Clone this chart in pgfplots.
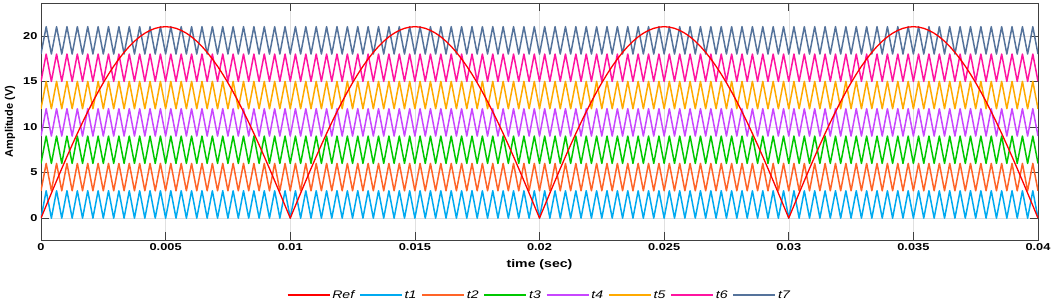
\documentclass[border=0pt]{standalone}
\usepackage{pgfplots}
\usepackage{pgfplotstable}
\pgfplotsset{compat=1.18}
\usepackage{fontspec}
\setmainfont{Liberation Sans}
\newfontfamily\wide[FakeStretch=1.28]{Liberation Sans}
\definecolor{cref}{RGB}{255,0,0}
\definecolor{ca}{RGB}{0,170,240}
\definecolor{cb}{RGB}{255,100,40}
\definecolor{cc}{RGB}{0,200,0}
\definecolor{cd}{RGB}{200,70,255}
\definecolor{ce}{RGB}{255,170,0}
\definecolor{cf}{RGB}{255,20,160}
\definecolor{cg}{RGB}{85,115,155}
\pgfplotstableread{
k ref t1 t2 t3 t4 t5 t6 t7
0 0 0 3 6 9 12 15 18
1 1.373 3 6 9 12 15 18 21
2 2.741 0 3 6 9 12 15 18
3 4.097 3 6 9 12 15 18 21
4 5.435 0 3 6 9 12 15 18
5 6.750 3 6 9 12 15 18 21
6 8.036 0 3 6 9 12 15 18
7 9.288 3 6 9 12 15 18 21
8 10.5 0 3 6 9 12 15 18
9 11.667 3 6 9 12 15 18 21
10 12.784 0 3 6 9 12 15 18
11 13.846 3 6 9 12 15 18 21
12 14.849 0 3 6 9 12 15 18
13 15.789 3 6 9 12 15 18 21
14 16.660 0 3 6 9 12 15 18
15 17.461 3 6 9 12 15 18 21
16 18.187 0 3 6 9 12 15 18
17 18.834 3 6 9 12 15 18 21
18 19.401 0 3 6 9 12 15 18
19 19.886 3 6 9 12 15 18 21
20 20.284 0 3 6 9 12 15 18
21 20.596 3 6 9 12 15 18 21
22 20.820 0 3 6 9 12 15 18
23 20.955 3 6 9 12 15 18 21
24 21 0 3 6 9 12 15 18
25 20.955 3 6 9 12 15 18 21
26 20.820 0 3 6 9 12 15 18
27 20.596 3 6 9 12 15 18 21
28 20.284 0 3 6 9 12 15 18
29 19.886 3 6 9 12 15 18 21
30 19.401 0 3 6 9 12 15 18
31 18.834 3 6 9 12 15 18 21
32 18.187 0 3 6 9 12 15 18
33 17.461 3 6 9 12 15 18 21
34 16.660 0 3 6 9 12 15 18
35 15.789 3 6 9 12 15 18 21
36 14.849 0 3 6 9 12 15 18
37 13.846 3 6 9 12 15 18 21
38 12.784 0 3 6 9 12 15 18
39 11.667 3 6 9 12 15 18 21
40 10.5 0 3 6 9 12 15 18
41 9.288 3 6 9 12 15 18 21
42 8.036 0 3 6 9 12 15 18
43 6.750 3 6 9 12 15 18 21
44 5.435 0 3 6 9 12 15 18
45 4.097 3 6 9 12 15 18 21
46 2.741 0 3 6 9 12 15 18
47 1.373 3 6 9 12 15 18 21
48 0 0 3 6 9 12 15 18
49 1.373 3 6 9 12 15 18 21
50 2.741 0 3 6 9 12 15 18
51 4.097 3 6 9 12 15 18 21
52 5.435 0 3 6 9 12 15 18
53 6.750 3 6 9 12 15 18 21
54 8.036 0 3 6 9 12 15 18
55 9.288 3 6 9 12 15 18 21
56 10.5 0 3 6 9 12 15 18
57 11.667 3 6 9 12 15 18 21
58 12.784 0 3 6 9 12 15 18
59 13.846 3 6 9 12 15 18 21
60 14.849 0 3 6 9 12 15 18
61 15.789 3 6 9 12 15 18 21
62 16.660 0 3 6 9 12 15 18
63 17.461 3 6 9 12 15 18 21
64 18.187 0 3 6 9 12 15 18
65 18.834 3 6 9 12 15 18 21
66 19.401 0 3 6 9 12 15 18
67 19.886 3 6 9 12 15 18 21
68 20.284 0 3 6 9 12 15 18
69 20.596 3 6 9 12 15 18 21
70 20.820 0 3 6 9 12 15 18
71 20.955 3 6 9 12 15 18 21
72 21 0 3 6 9 12 15 18
73 20.955 3 6 9 12 15 18 21
74 20.820 0 3 6 9 12 15 18
75 20.596 3 6 9 12 15 18 21
76 20.284 0 3 6 9 12 15 18
77 19.886 3 6 9 12 15 18 21
78 19.401 0 3 6 9 12 15 18
79 18.834 3 6 9 12 15 18 21
80 18.187 0 3 6 9 12 15 18
81 17.461 3 6 9 12 15 18 21
82 16.660 0 3 6 9 12 15 18
83 15.789 3 6 9 12 15 18 21
84 14.849 0 3 6 9 12 15 18
85 13.846 3 6 9 12 15 18 21
86 12.784 0 3 6 9 12 15 18
87 11.667 3 6 9 12 15 18 21
88 10.5 0 3 6 9 12 15 18
89 9.288 3 6 9 12 15 18 21
90 8.036 0 3 6 9 12 15 18
91 6.750 3 6 9 12 15 18 21
92 5.435 0 3 6 9 12 15 18
93 4.097 3 6 9 12 15 18 21
94 2.741 0 3 6 9 12 15 18
95 1.373 3 6 9 12 15 18 21
96 0 0 3 6 9 12 15 18
97 1.373 3 6 9 12 15 18 21
98 2.741 0 3 6 9 12 15 18
99 4.097 3 6 9 12 15 18 21
100 5.435 0 3 6 9 12 15 18
101 6.750 3 6 9 12 15 18 21
102 8.036 0 3 6 9 12 15 18
103 9.288 3 6 9 12 15 18 21
104 10.5 0 3 6 9 12 15 18
105 11.667 3 6 9 12 15 18 21
106 12.784 0 3 6 9 12 15 18
107 13.846 3 6 9 12 15 18 21
108 14.849 0 3 6 9 12 15 18
109 15.789 3 6 9 12 15 18 21
110 16.660 0 3 6 9 12 15 18
111 17.461 3 6 9 12 15 18 21
112 18.187 0 3 6 9 12 15 18
113 18.834 3 6 9 12 15 18 21
114 19.401 0 3 6 9 12 15 18
115 19.886 3 6 9 12 15 18 21
116 20.284 0 3 6 9 12 15 18
117 20.596 3 6 9 12 15 18 21
118 20.820 0 3 6 9 12 15 18
119 20.955 3 6 9 12 15 18 21
120 21 0 3 6 9 12 15 18
121 20.955 3 6 9 12 15 18 21
122 20.820 0 3 6 9 12 15 18
123 20.596 3 6 9 12 15 18 21
124 20.284 0 3 6 9 12 15 18
125 19.886 3 6 9 12 15 18 21
126 19.401 0 3 6 9 12 15 18
127 18.834 3 6 9 12 15 18 21
128 18.187 0 3 6 9 12 15 18
129 17.461 3 6 9 12 15 18 21
130 16.660 0 3 6 9 12 15 18
131 15.789 3 6 9 12 15 18 21
132 14.849 0 3 6 9 12 15 18
133 13.846 3 6 9 12 15 18 21
134 12.784 0 3 6 9 12 15 18
135 11.667 3 6 9 12 15 18 21
136 10.5 0 3 6 9 12 15 18
137 9.288 3 6 9 12 15 18 21
138 8.036 0 3 6 9 12 15 18
139 6.750 3 6 9 12 15 18 21
140 5.435 0 3 6 9 12 15 18
141 4.097 3 6 9 12 15 18 21
142 2.741 0 3 6 9 12 15 18
143 1.373 3 6 9 12 15 18 21
144 0 0 3 6 9 12 15 18
145 1.373 3 6 9 12 15 18 21
146 2.741 0 3 6 9 12 15 18
147 4.097 3 6 9 12 15 18 21
148 5.435 0 3 6 9 12 15 18
149 6.750 3 6 9 12 15 18 21
150 8.036 0 3 6 9 12 15 18
151 9.288 3 6 9 12 15 18 21
152 10.5 0 3 6 9 12 15 18
153 11.667 3 6 9 12 15 18 21
154 12.784 0 3 6 9 12 15 18
155 13.846 3 6 9 12 15 18 21
156 14.849 0 3 6 9 12 15 18
157 15.789 3 6 9 12 15 18 21
158 16.660 0 3 6 9 12 15 18
159 17.461 3 6 9 12 15 18 21
160 18.187 0 3 6 9 12 15 18
161 18.834 3 6 9 12 15 18 21
162 19.401 0 3 6 9 12 15 18
163 19.886 3 6 9 12 15 18 21
164 20.284 0 3 6 9 12 15 18
165 20.596 3 6 9 12 15 18 21
166 20.820 0 3 6 9 12 15 18
167 20.955 3 6 9 12 15 18 21
168 21 0 3 6 9 12 15 18
169 20.955 3 6 9 12 15 18 21
170 20.820 0 3 6 9 12 15 18
171 20.596 3 6 9 12 15 18 21
172 20.284 0 3 6 9 12 15 18
173 19.886 3 6 9 12 15 18 21
174 19.401 0 3 6 9 12 15 18
175 18.834 3 6 9 12 15 18 21
176 18.187 0 3 6 9 12 15 18
177 17.461 3 6 9 12 15 18 21
178 16.660 0 3 6 9 12 15 18
179 15.789 3 6 9 12 15 18 21
180 14.849 0 3 6 9 12 15 18
181 13.846 3 6 9 12 15 18 21
182 12.784 0 3 6 9 12 15 18
183 11.667 3 6 9 12 15 18 21
184 10.5 0 3 6 9 12 15 18
185 9.288 3 6 9 12 15 18 21
186 8.036 0 3 6 9 12 15 18
187 6.750 3 6 9 12 15 18 21
188 5.435 0 3 6 9 12 15 18
189 4.097 3 6 9 12 15 18 21
190 2.741 0 3 6 9 12 15 18
191 1.373 3 6 9 12 15 18 21
192 0 0 3 6 9 12 15 18
}\datatable
\begin{document}
\begin{tikzpicture}
\useasboundingbox (-41pt,-62pt) rectangle (1011pt,240pt);
\begin{axis}[
  at={(0pt,0pt)}, anchor=south west,
  scale only axis, width=997pt, height=237pt,
  xmin=0, xmax=192, ymin=-2.4, ymax=23.6,
  xtick={0,24,48,72,96,120,144,168,192},
  xticklabels={0,0.005,0.01,0.015,0.02,0.025,0.03,0.035,0.04},
  ytick={0,5,10,15,20},
  /pgf/number format/assume math mode=true,
  tick align=inside, major tick length=8pt,
  tick style={black!75, line width=0.6pt},
  axis line style={black!75, line width=0.7pt},
  grid=major, major grid style={black!12, line width=0.5pt},
  ticklabel style={font=\wide\bfseries\fontsize{10}{12}\selectfont},
  xlabel={time (sec)}, ylabel={Amplitude (V)},
  xlabel style={font=\wide\bfseries\fontsize{11}{13}\selectfont, at={(axis description cs:0.5,-0.105)}, anchor=center},
  ylabel style={font=\bfseries\fontsize{11}{13}\selectfont, at={(axis description cs:-0.031,0.5)}, anchor=center},
  legend columns=8,
  legend style={at={(axis description cs:0.5,-0.232)}, anchor=center, draw=none, fill=none,
    font=\wide\itshape\fontsize{11}{13}\selectfont,
    /tikz/every even column/.append style={column sep=3pt}},
  legend image code/.code={\draw[#1] (0pt,0pt) -- (42pt,0pt);},
  every axis plot/.append style={line join=round},
]
\addlegendimage{cref, line width=1.2pt}
\addlegendentry{Ref}
\addplot[ca, line width=1.5pt] table[x=k, y=t1] {\datatable};
\addlegendentry{t1}
\addplot[cb, line width=1.5pt] table[x=k, y=t2] {\datatable};
\addlegendentry{t2}
\addplot[cc, line width=1.5pt] table[x=k, y=t3] {\datatable};
\addlegendentry{t3}
\addplot[cd, line width=1.5pt] table[x=k, y=t4] {\datatable};
\addlegendentry{t4}
\addplot[ce, line width=1.5pt] table[x=k, y=t5] {\datatable};
\addlegendentry{t5}
\addplot[cf, line width=1.5pt] table[x=k, y=t6] {\datatable};
\addlegendentry{t6}
\addplot[cg, line width=1.5pt] table[x=k, y=t7] {\datatable};
\addlegendentry{t7}
\addplot[cref, line width=1.3pt, forget plot] table[x=k, y=ref] {\datatable};
\end{axis}
\end{tikzpicture}
\end{document}
